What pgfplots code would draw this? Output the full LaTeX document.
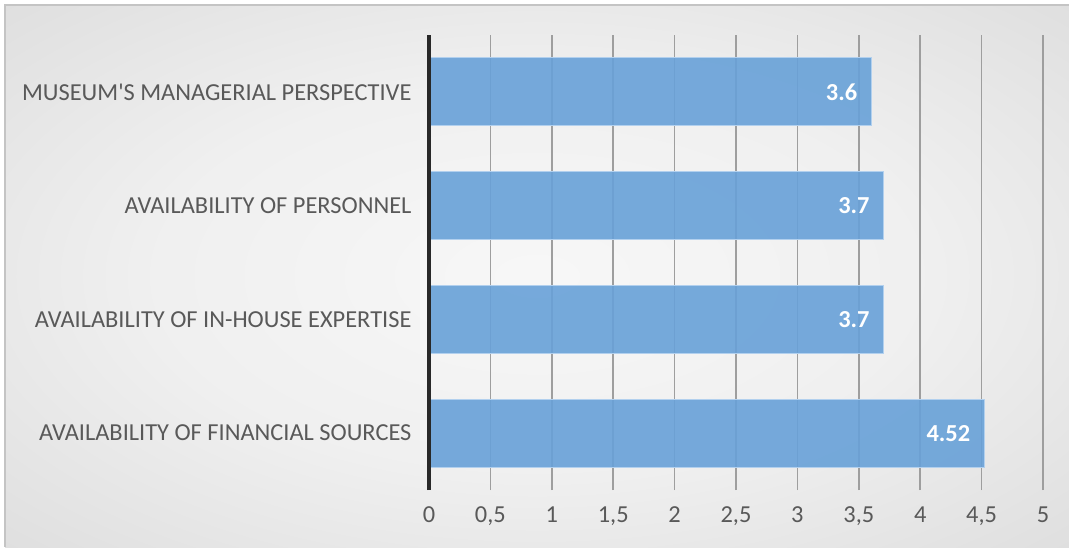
\documentclass[border=0pt]{standalone}
\usepackage{pgfplots}
\pgfplotsset{compat=1.18}
\usepackage{fontspec}
\setmainfont{Carlito}[Ligatures=TeXOff]

\definecolor{barblue}{RGB}{104,161,216}
\definecolor{baredge}{RGB}{178,208,238}
\definecolor{labelgray}{RGB}{89,89,89}
\definecolor{gridgray}{RGB}{158,158,158}
\definecolor{framegray}{RGB}{196,196,196}
\definecolor{axisdark}{RGB}{40,40,40}

% soft radial backdrop of the chart area
\pgfdeclareradialshading{chartbg}{\pgfpoint{0bp}{0bp}}{%
  color(0bp)=(white!97!black);
  color(18bp)=(white!94!black);
  color(50bp)=(white!82!black);
  color(72bp)=(white!75!black)}

\pgfplotstableread{
y  x     label
1  4.52  4.52
2  3.7   3.7
3  3.7   3.7
4  3.6   3.6
}\scores

\newcommand{\labfont}{\fontsize{24.4}{29}\selectfont}

\begin{document}
\begin{tikzpicture}[x=1pt,y=1pt]
\useasboundingbox (0,0) rectangle (1069,547);
\shade[shading=chartbg] (5,0) rectangle (1069,542);
\draw[framegray, line width=1.5pt] (5,0) -- (5,542) -- (1069,542);

\begin{axis}[
  at={(429pt,57pt)}, anchor=south west,
  scale only axis, width=614pt, height=455pt,
  xbar,
  xmin=0, xmax=5, ymin=0.5, ymax=4.5,
  bar width=0.6,
  xtick={0,0.5,...,5},
  xticklabels={0,{0,5},1,{1,5},2,{2,5},3,{3,5},4,{4,5},5},
  ytick={1,2,3,4},
  yticklabels={AVAILABILITY OF FINANCIAL SOURCES,
               AVAILABILITY OF IN-HOUSE EXPERTISE,
               AVAILABILITY OF PERSONNEL,
               MUSEUM'S MANAGERIAL PERSPECTIVE},
  xmajorgrids,
  grid style={gridgray, line width=1.5pt},
  axis line style={draw=none},
  major tick length=0pt,
  tick label style={font=\labfont, text=labelgray},
  xticklabel style={yshift=-13pt},
  yticklabel style={xshift=-14pt},
  nodes near coords,
  point meta=explicit symbolic,
  nodes near coords style={anchor=east, xshift=-10pt, text=white,
    text opacity=1, font=\bfseries\labfont},
  clip=false,
]
\addplot[fill=barblue, fill opacity=0.9, draw=baredge, line width=1pt]
  table[x=x, y=y, meta=label] {\scores};
\draw[axisdark, line width=3.5pt] (axis cs:0,0.5) -- (axis cs:0,4.5);
\end{axis}
\end{tikzpicture}
\end{document}
